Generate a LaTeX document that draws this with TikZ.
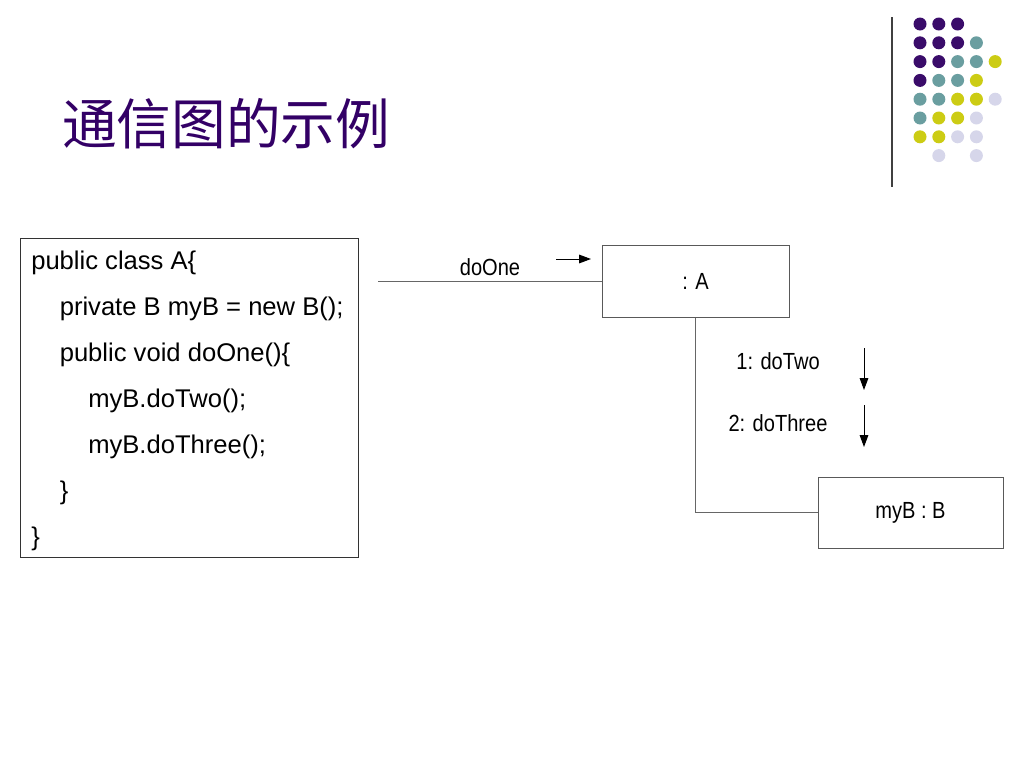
\documentclass[tikz,border=0pt]{standalone}
\usepackage{fontspec}
\setmainfont{Liberation Sans}
\newfontfamily\cjkfont{Noto Sans CJK SC}
\newfontfamily\narrowfont[FakeStretch=0.86]{Liberation Sans}
\usetikzlibrary{arrows.meta,positioning}
\definecolor{purple1}{RGB}{51, 0, 102}
\definecolor{purple2}{RGB}{58, 12, 106}
\definecolor{teal1}{RGB}{106, 158, 160}
\definecolor{yellow1}{RGB}{204, 204, 20}
\definecolor{lav1}{RGB}{214, 214, 234}
\tikzstyle{title} = [text=purple1,font=\cjkfont\fontsize{41}{45}\selectfont,inner sep=0pt]
\tikzstyle{object} = [rectangle,draw=black!65,line width=0.75pt,font=\narrowfont\fontsize{17.5}{20}\selectfont,minimum width=140.25pt,minimum height=54pt]
\tikzstyle{msg} = [font=\narrowfont\fontsize{17.5}{20}\selectfont,inner sep=0pt]
\tikzstyle{arrow_msg} = [-{Triangle[length=9pt,width=6.5pt]}, draw=black, fill=black, line width=0.75pt]
\tikzstyle{link} = [draw=black!60, line width=0.75pt]
\tikzstyle{dot} = [circle,inner sep=0pt,minimum size=9.75pt]
\tikzstyle{codeline} = [anchor=base west,inner sep=0pt,font=\fontsize{19.2}{23}\selectfont]

\begin{document}
\begin{tikzpicture}[x=0.75pt,y=-0.75pt]
    \useasboundingbox (0,0) rectangle (1024,768);

      \node[title] (title) at (226,124) {通信图的示例};

      \draw[line width=1.1pt, draw=black!75] (892,17) -- (892,187);
      \foreach \c/\r/\col in {0/0/purple2,1/0/purple2,2/0/purple2,
                              0/1/purple2,1/1/purple2,2/1/purple2,3/1/teal1,
                              0/2/purple2,1/2/purple2,2/2/teal1,3/2/teal1,4/2/yellow1,
                              0/3/purple2,1/3/teal1,2/3/teal1,3/3/yellow1,
                              0/4/teal1,1/4/teal1,2/4/yellow1,3/4/yellow1,4/4/lav1,
                              0/5/teal1,1/5/yellow1,2/5/yellow1,3/5/lav1,
                              0/6/yellow1,1/6/yellow1,2/6/lav1,3/6/lav1,
                              1/7/lav1,3/7/lav1} {
        \node[dot, fill=\col] (dot\c\r) at (920+18.8*\c, 24+18.8*\r) {};
      }

      \node[draw=black!80, line width=0.75pt, anchor=north west, inner sep=0pt,
            minimum width=253.5pt, minimum height=239.25pt] (codebox) at (20,238) {};
      \foreach \txt/\ind [count=\i] in {{public class A\{}/0,
                                        {private B myB = new B();}/1,
                                        {public void doOne()\{}/1,
                                        {myB.doTwo();}/2,
                                        {myB.doThree();}/2,
                                        {\}}/1,
                                        {\}}/0} {
        \node[codeline] (line\i) at (31+28.5*\ind, 269+46*\i-46) {\txt};
      }

      \node[object] (a) at (695.5,281) {: A};
      \node[object, minimum width=138.75pt, minimum height=53.25pt] (b) at (910.5,512.5) {myB : B};
      \coordinate (caller) at (378,281);

      \path[link] (caller) -- (a.west);
      \path[link] (a.south) |- (b.west);

      \node[msg] (doone) at (490,267) {doOne};
      \coordinate (doone_s) at (556,259);
      \coordinate (doone_e) at (591,259);
      \draw[arrow_msg] (doone_s) -- (doone_e);

      \node[msg] (dotwo) at (778,361) {1: doTwo};
      \node[msg] (dothree) at (778,423) {2: doThree};
      \foreach \n/\y in {dotwo/348, dothree/405} {
        \coordinate (\n_s) at (864,\y);
        \coordinate (\n_e) at (864,\y+42);
        \draw[arrow_msg] (\n_s) -- (\n_e);
      }
    \end{tikzpicture}
\end{document}
